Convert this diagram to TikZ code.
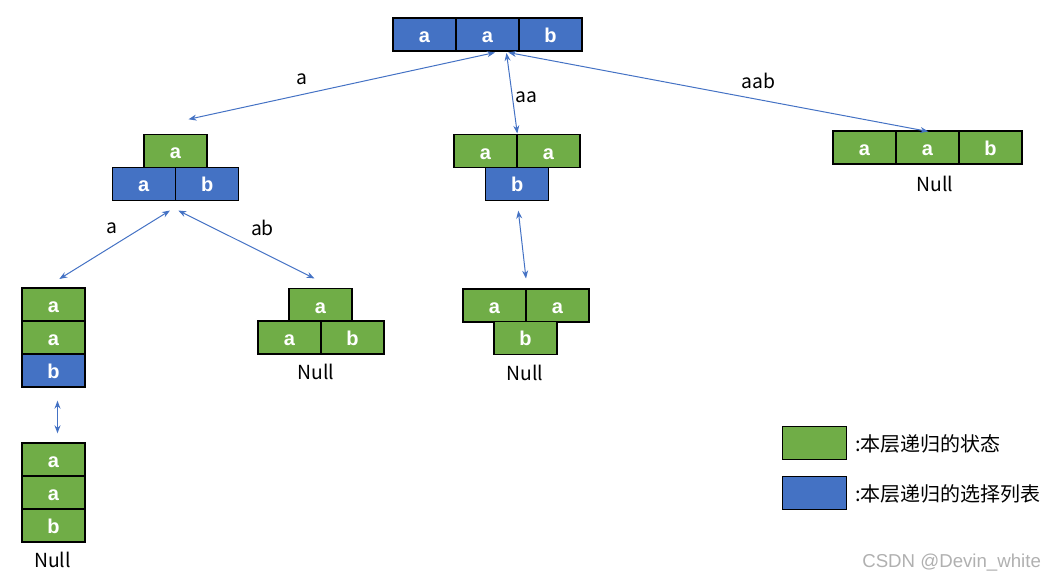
\documentclass[tikz,border=0pt]{standalone}
\usepackage{fontspec}
\setmainfont{Liberation Sans}
\newfontfamily\cjk{Noto Sans CJK SC}
\usetikzlibrary{arrows.meta}
\definecolor{cgreen}{HTML}{70AD47}
\definecolor{cblue}{HTML}{4472C4}
\definecolor{wmgray}{HTML}{B0B0B0}
\begin{document}
\begin{tikzpicture}[x=0.75pt,y=-0.75pt,
  cell/.style={draw=black,line width=0.9pt,minimum width=47.25pt,minimum height=24.75pt,
    inner sep=0pt,text=white,text height=12pt,text depth=0pt,
    font=\fontsize{15}{15}\selectfont\bfseries},
  gc/.style={cell,fill=cgreen},
  bc/.style={cell,fill=cblue},
  lab/.style={font=\cjk\fontsize{14.5}{14.5}\selectfont,inner sep=0pt},
  leg/.style={font=\cjk\fontsize{15}{15}\selectfont,inner sep=0pt,anchor=west},
  link/.style={draw=cblue,line width=0.75pt,
    {Stealth[length=6pt,width=4.5pt]}-{Stealth[length=6pt,width=4.5pt]}}]
\useasboundingbox (0,0) rectangle (1053,582);

% top
\node[bc] (t1) at (424.5,34.5) {a};
\node[bc] (t2) at (487.5,34.5) {a};
\node[bc] (t3) at (550.5,34.5) {b};

% left level 1
\node[gc] (l1s) at (175.5,150.8) {a};
\node[bc] (l1a) at (143.8,183.6) {a};
\node[bc] (l1b) at (207.2,183.6) {b};

% middle level 1
\node[gc] (m1a) at (485.5,151.2) {a};
\node[gc] (m1b) at (548.5,151.2) {a};
\node[bc] (m1c) at (517.2,183.8) {b};

% right level 1
\node[gc] (r1a) at (864.5,147.5) {a};
\node[gc] (r1b) at (927.5,147.5) {a};
\node[gc] (r1c) at (990.5,147.5) {b};
\node[lab] (r1n) at (935,184) {Null};

% left column
\node[gc] (c1) at (53.5,304.5) {a};
\node[gc] (c2) at (53.5,337.5) {a};
\node[bc] (c3) at (53.5,370.5) {b};
\node[gc] (d1) at (53.5,459.5) {a};
\node[gc] (d2) at (53.5,492.5) {a};
\node[gc] (d3) at (53.5,525.5) {b};
\node[lab] (dn) at (52.5,560) {Null};

% second level 2
\node[gc] (e1) at (320.5,305) {a};
\node[gc] (e2) at (289.5,337.5) {a};
\node[gc] (e3) at (352.5,337.5) {b};
\node[lab] (en) at (316,372) {Null};

% middle level 2
\node[gc] (f1) at (494.5,305.5) {a};
\node[gc] (f2) at (557.5,305.5) {a};
\node[gc] (f3) at (525.5,337.8) {b};
\node[lab] (fn) at (525,373) {Null};

% connector ends
\coordinate (a1s) at (495,52.5);
\coordinate (a1e) at (188.5,119.3);
\coordinate (a2s) at (506.5,53);
\coordinate (a2e) at (517.3,133.5);
\coordinate (a3s) at (508.3,52.5);
\coordinate (a3e) at (928.3,131.5);
\coordinate (a4s) at (170,210.5);
\coordinate (a4e) at (59.3,279);
\coordinate (a5s) at (178.3,210.5);
\coordinate (a5e) at (314.5,278.5);
\coordinate (a6s) at (518.3,210.7);
\coordinate (a6e) at (526,278.5);
\coordinate (a7s) at (57.5,400.7);
\coordinate (a7e) at (57.5,433.3);

\draw[link] (a1s) -- (a1e);
\draw[link] (a2s) -- (a2e);
\draw[link] (a3s) -- (a3e);
\draw[link] (a4s) -- (a4e);
\draw[link] (a5s) -- (a5e);
\draw[link] (a6s) -- (a6e);
\draw[link] (a7s) -- (a7e);

% labels
\node[lab] (la1) at (301.5,79) {a};
\node[lab] (la2) at (526,97.5) {aa};
\node[lab] (la3) at (758.5,81) {aab};
\node[lab] (la4) at (111.7,228) {a};
\node[lab] (la5) at (262.5,228) {ab};

% legend
\node[gc,minimum width=48pt] (lg1) at (814.7,443.3) {};
\node[bc,minimum width=48pt] (lg2) at (814.7,493) {};
\node[leg] (lt1) at (855,444) {:本层递归的状态};
\node[leg] (lt2) at (855,494) {:本层递归的选择列表};

% watermark
\node[font=\fontsize{14}{14}\selectfont,text=wmgray,inner sep=0pt,anchor=west] (wm) at (862,563) {CSDN @Devin\_white};
\end{tikzpicture}
\end{document}
